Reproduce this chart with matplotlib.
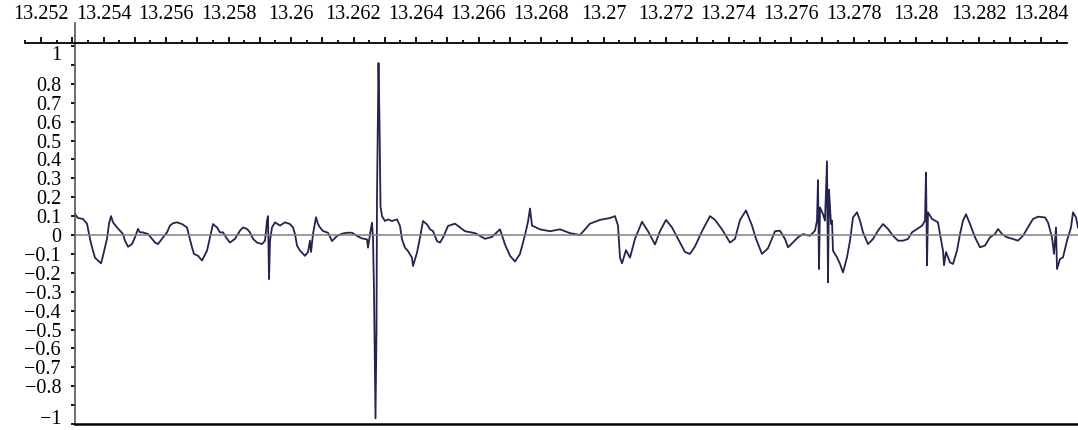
import matplotlib
matplotlib.use("Agg")
import matplotlib.pyplot as plt
import numpy as np

plt.rcParams['font.family'] = ['Liberation Serif', 'DejaVu Serif']

# time axis: seconds = T0 + t_ms / 1000
T0 = 13.25

t_ms = [3.088, 3.184, 3.344, 3.472, 3.568, 3.632, 3.728, 3.824, 3.92, 3.984,
        4.112, 4.176, 4.24, 4.304, 4.432, 4.528, 4.624, 4.688, 4.784, 4.912,
        5.008, 5.104, 5.168, 5.264, 5.424, 5.552, 5.648, 5.744, 5.872, 6.032,
        6.128, 6.224, 6.352, 6.512, 6.672, 6.736, 6.832, 6.896, 7.024, 7.152,
        7.312, 7.408, 7.504, 7.632, 7.728, 7.824, 7.952, 8.048, 8.208, 8.368,
        8.464, 8.592, 8.688, 8.784, 8.912, 9.072, 9.168, 9.2, 9.232, 9.264,
        9.28, 9.296, 9.328, 9.392, 9.488, 9.648, 9.808, 9.968, 10.064, 10.128,
        10.192, 10.288, 10.448, 10.544, 10.608, 10.64, 10.704, 10.8, 10.864, 10.928,
        11.024, 11.184, 11.312, 11.472, 11.632, 11.792, 11.952, 12.112, 12.272, 12.432,
        12.464, 12.528, 12.592, 12.624, 12.656, 12.704, 12.736, 12.752, 12.8, 12.832,
        12.864, 12.912, 13.008, 13.104, 13.232, 13.392, 13.488, 13.552, 13.648, 13.744,
        13.872, 13.904, 14.032, 14.128, 14.224, 14.352, 14.448, 14.544, 14.672, 14.768,
        14.864, 15.024, 15.248, 15.568, 15.888, 16.208, 16.432, 16.688, 16.848, 17.008,
        17.168, 17.328, 17.488, 17.584, 17.648, 17.712, 17.968, 18.288, 18.608, 18.928,
        19.248, 19.568, 19.888, 20.208, 20.368, 20.464, 20.528, 20.592, 20.72, 20.848,
        21.008, 21.232, 21.424, 21.648, 21.808, 22.0, 22.192, 22.384, 22.608, 22.768,
        22.928, 23.152, 23.408, 23.568, 23.792, 24.048, 24.208, 24.368, 24.56, 24.752,
        24.88, 25.072, 25.264, 25.488, 25.648, 25.808, 25.904, 26.064, 26.224, 26.384,
        26.608, 26.768, 26.832, 26.864, 26.896, 26.928, 27.024, 27.088, 27.152, 27.184,
        27.216, 27.28, 27.312, 27.344, 27.472, 27.568, 27.664, 27.792, 27.888, 27.984,
        28.112, 28.208, 28.304, 28.464, 28.624, 28.784, 28.944, 29.104, 29.264, 29.424,
        29.584, 29.744, 29.872, 30.032, 30.192, 30.288, 30.32, 30.352, 30.384, 30.512,
        30.608, 30.704, 30.768, 30.864, 30.896, 30.96, 31.088, 31.184, 31.312, 31.408,
        31.504, 31.6, 31.728, 31.888, 32.048, 32.208, 32.368, 32.528, 32.624, 32.752,
        32.912, 33.104, 33.264, 33.424, 33.584, 33.744, 33.904, 34.128, 34.224, 34.352,
        34.416, 34.48, 34.512, 34.608, 34.704, 34.832, 34.96, 35.024, 35.12, 35.184]

amp = [0.11, 0.09, 0.085, 0.06, -0.02, -0.065, -0.12, -0.135, -0.15, -0.11,
       -0.02, 0.06, 0.10, 0.067, 0.04, 0.023, 0.005, -0.03, -0.062, -0.048,
       -0.012, 0.032, 0.014, 0.014, 0.005, -0.02, -0.04, -0.048, -0.02, 0.014,
       0.05, 0.062, 0.067, 0.058, 0.04, -0.003, -0.065, -0.10, -0.11, -0.135,
       -0.083, -0.012, 0.058, 0.04, 0.014, 0.014, -0.02, -0.04, -0.02, 0.023,
       0.04, 0.032, 0.014, -0.02, -0.04, -0.048, -0.03, 0.02, 0.076, 0.10,
       -0.065, -0.233, -0.03, 0.04, 0.067, 0.05, 0.067, 0.058, 0.04, 0.005,
       -0.056, -0.083, -0.11, -0.09, -0.03, -0.09, 0.005, 0.094, 0.058, 0.04,
       0.021, 0.012, -0.032, -0.005, 0.007, 0.012, 0.012, -0.005, -0.018, -0.023,
       -0.067, 0.004, 0.065, -0.014, -0.3, -0.97, -0.5, 0.2, 0.91, 0.6,
       0.15, 0.10, 0.074, 0.083, 0.074, 0.083, 0.048, -0.023, -0.067, -0.085,
       -0.12, -0.164, -0.093, -0.014, 0.074, 0.056, 0.03, 0.021, -0.032, -0.04,
       -0.014, 0.048, 0.06, 0.02, 0.01, -0.02, -0.01, 0.03, -0.05, -0.11,
       -0.14, -0.10, 0.0, 0.07, 0.14, 0.05, 0.03, 0.02, 0.03, 0.01,
       0.0, 0.06, 0.08, 0.09, 0.10, 0.05, -0.12, -0.15, -0.08, -0.12,
       -0.02, 0.07, 0.02, -0.05, 0.02, 0.08, 0.04, -0.02, -0.09, -0.10,
       -0.06, 0.02, 0.10, 0.08, 0.03, -0.04, -0.02, 0.08, 0.13, 0.05,
       -0.02, -0.10, -0.07, 0.02, 0.023, -0.021, -0.065, -0.039, -0.012, 0.005,
       -0.004, 0.023, 0.076, 0.29, -0.18, 0.146, 0.11, 0.076, 0.39, -0.25,
       0.24, 0.058, 0.076, -0.083, -0.118, -0.153, -0.198, -0.118, -0.03, 0.093,
       0.12, 0.076, 0.014, -0.048, -0.021, 0.023, 0.058, 0.032, -0.004, -0.03,
       -0.03, -0.021, 0.014, 0.032, 0.049, 0.076, 0.33, -0.16, 0.12, 0.085,
       0.076, 0.067, 0.005, -0.083, -0.16, -0.09, -0.145, -0.153, -0.083, 0.005,
       0.076, 0.11, 0.058, -0.012, -0.065, -0.056, -0.012, 0.005, 0.032, 0.005,
       -0.012, -0.021, -0.03, -0.004, 0.04, 0.085, 0.097, 0.093, 0.067, -0.012,
       -0.10, 0.04, -0.18, -0.127, -0.118, -0.03, 0.04, 0.12, 0.093, 0.04]

# axis ticks / labels
x_major = [13.252 + 0.001 * i for i in range(33)]
x_minor = [13.2515 + 0.001 * i for i in range(34)]
y_ticks = [round(-1 + 0.1 * i, 1) for i in range(21)]
y_labels = ['\u22121', '', '\u22120.8', '\u22120.7', '\u22120.6', '\u22120.5',
            '\u22120.4', '\u22120.3', '\u22120.2', '\u22120.1', '0', '0.1', '0.2',
            '0.3', '0.4', '0.5', '0.6', '0.7', '0.8', '', '1']

t = T0 + np.array(t_ms) / 1000.0
a = np.array(amp)

fig = plt.figure(figsize=(10.78, 4.30), dpi=100)
ax = fig.add_axes([25 / 1078, 6 / 430, 1053 / 1078, 381 / 430])

ax.plot(t, a, color='#24244f', lw=1.3, zorder=2)
ax.hlines(0, t[0], t[-1], color='#7f7f7f', lw=1.1, zorder=3)

ax.set_xlim(T0 + 1.488 / 1000, T0 + 35.184 / 1000)
ax.set_ylim(-1.0, 1.016)

# spines
ax.spines['right'].set_visible(False)
ax.spines['left'].set_position(('data', t[0]))
ax.spines['left'].set_color('#555555')
ax.spines['left'].set_linewidth(1.2)
ax.spines['left'].set_bounds(-1.0, 1.12)
ax.spines['bottom'].set_bounds(t[0], t[-1])
ax.spines['bottom'].set_linewidth(1.8)
ax.spines['top'].set_bounds(T0 + 1.488 / 1000, T0 + 34.83 / 1000)
ax.spines['top'].set_linewidth(1.3)

# x axis on top
ax.xaxis.set_ticks_position('top')
ax.set_xticks(x_major)
xlabs = []
for i, v in enumerate(x_major):
    xlabs.append(('%.3f' % v).rstrip('0') if i % 2 == 0 else '')
ax.set_xticklabels(xlabs)
ax.set_xticks(x_minor, minor=True)
ax.tick_params(axis='x', which='major', direction='out', length=4, width=1.3,
               labelsize=14.5, pad=10)
ax.tick_params(axis='x', which='minor', direction='out', length=2.2, width=1.3)

# y axis
ax.set_yticks(y_ticks)
ax.set_yticklabels(y_labels)
ax.tick_params(axis='y', direction='out', length=3, width=1.3, labelsize=14.5, pad=7)
for lab in ax.get_yticklabels():
    if lab.get_text() == '1':
        lab.set_va('top')
    elif lab.get_text() == '\u22121':
        lab.set_va('baseline')

fig.savefig('out.png', dpi=100)
